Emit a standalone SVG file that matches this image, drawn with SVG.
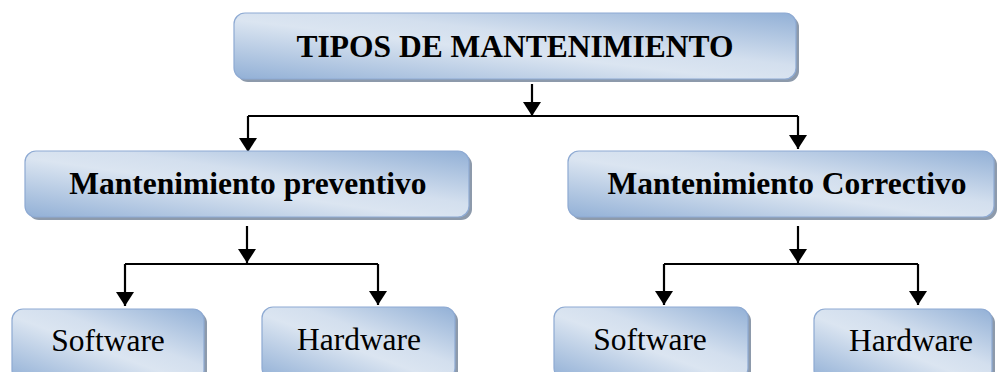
<svg xmlns="http://www.w3.org/2000/svg" width="997" height="372" viewBox="0 0 997 372">
<defs>
<linearGradient id="g" x1="0" y1="1" x2="1" y2="0">
<stop offset="0" stop-color="#92b0d6"/>
<stop offset="0.45" stop-color="#dbe5f1"/>
<stop offset="0.6" stop-color="#d3dfee"/>
<stop offset="1" stop-color="#92b0d6"/>
</linearGradient>
<marker id="ah" markerUnits="userSpaceOnUse" viewBox="0 -9 14 18" refX="14" refY="0" markerWidth="14" markerHeight="18" orient="auto">
<path d="M0,-9 L14,0 L0,9 z" fill="#000"/>
</marker>
</defs>
<style>
.box{fill:url(#g);stroke:#8eaad3;stroke-width:1.2}
.sh{fill:#8d9aab}
.t{font-family:"Liberation Serif","Times New Roman",serif;fill:#000;text-anchor:middle}
.b{font-weight:bold;font-size:31.5px}
.r{font-size:31.5px}
.c{fill:none;stroke:#000;stroke-width:2.2}
.a{marker-end:url(#ah)}
</style>
<rect width="997" height="372" fill="#fff"/>
<g id="connectors">
<path class="c a" d="M532,84 L532,116"/>
<path class="c" d="M248,116 L798,116"/>
<path class="c a" d="M248,116 L248,152"/>
<path class="c a" d="M798,116 L798,149"/>
<path class="c a" d="M247,226 L247,263"/>
<path class="c" d="M125,264 L378,264"/>
<path class="c a" d="M125,264 L125,306"/>
<path class="c a" d="M378,264 L378,305"/>
<path class="c a" d="M798,226 L798,263"/>
<path class="c" d="M664,264 L918,264"/>
<path class="c a" d="M664,264 L664,305"/>
<path class="c a" d="M918,264 L918,305"/>
</g>
<g id="top">
<rect class="sh" x="237" y="16" width="562" height="66" rx="11"/>
<rect class="box" x="234" y="13" width="562" height="66" rx="11"/>
<text class="t b" x="515" y="57">TIPOS DE MANTENIMIENTO</text>
</g>
<g id="preventivo">
<rect class="sh" x="28" y="154" width="444" height="66" rx="11"/>
<rect class="box" x="25" y="151" width="444" height="66" rx="11"/>
<text class="t b" x="248" y="194">Mantenimiento preventivo</text>
</g>
<g id="correctivo">
<rect class="sh" x="571" y="154" width="426" height="66" rx="11"/>
<rect class="box" x="568" y="151" width="426" height="66" rx="11"/>
<text class="t b" x="787" y="194">Mantenimiento Correctivo</text>
</g>
<g id="software1">
<rect class="sh" x="15" y="312" width="192" height="72" rx="11"/>
<rect class="box" x="12" y="309" width="192" height="72" rx="11"/>
<text class="t r" x="108" y="351">Software</text>
</g>
<g id="hardware1">
<rect class="sh" x="265" y="310" width="193" height="72" rx="11"/>
<rect class="box" x="262" y="307" width="193" height="72" rx="11"/>
<text class="t r" x="359" y="350">Hardware</text>
</g>
<g id="software2">
<rect class="sh" x="557" y="310" width="194" height="72" rx="11"/>
<rect class="box" x="554" y="307" width="194" height="72" rx="11"/>
<text class="t r" x="650" y="350">Software</text>
</g>
<g id="hardware2">
<rect class="sh" x="817" y="312" width="178" height="72" rx="11"/>
<rect class="box" x="814" y="309" width="178" height="72" rx="11"/>
<text class="t r" x="911" y="351">Hardware</text>
</g>
</svg>
